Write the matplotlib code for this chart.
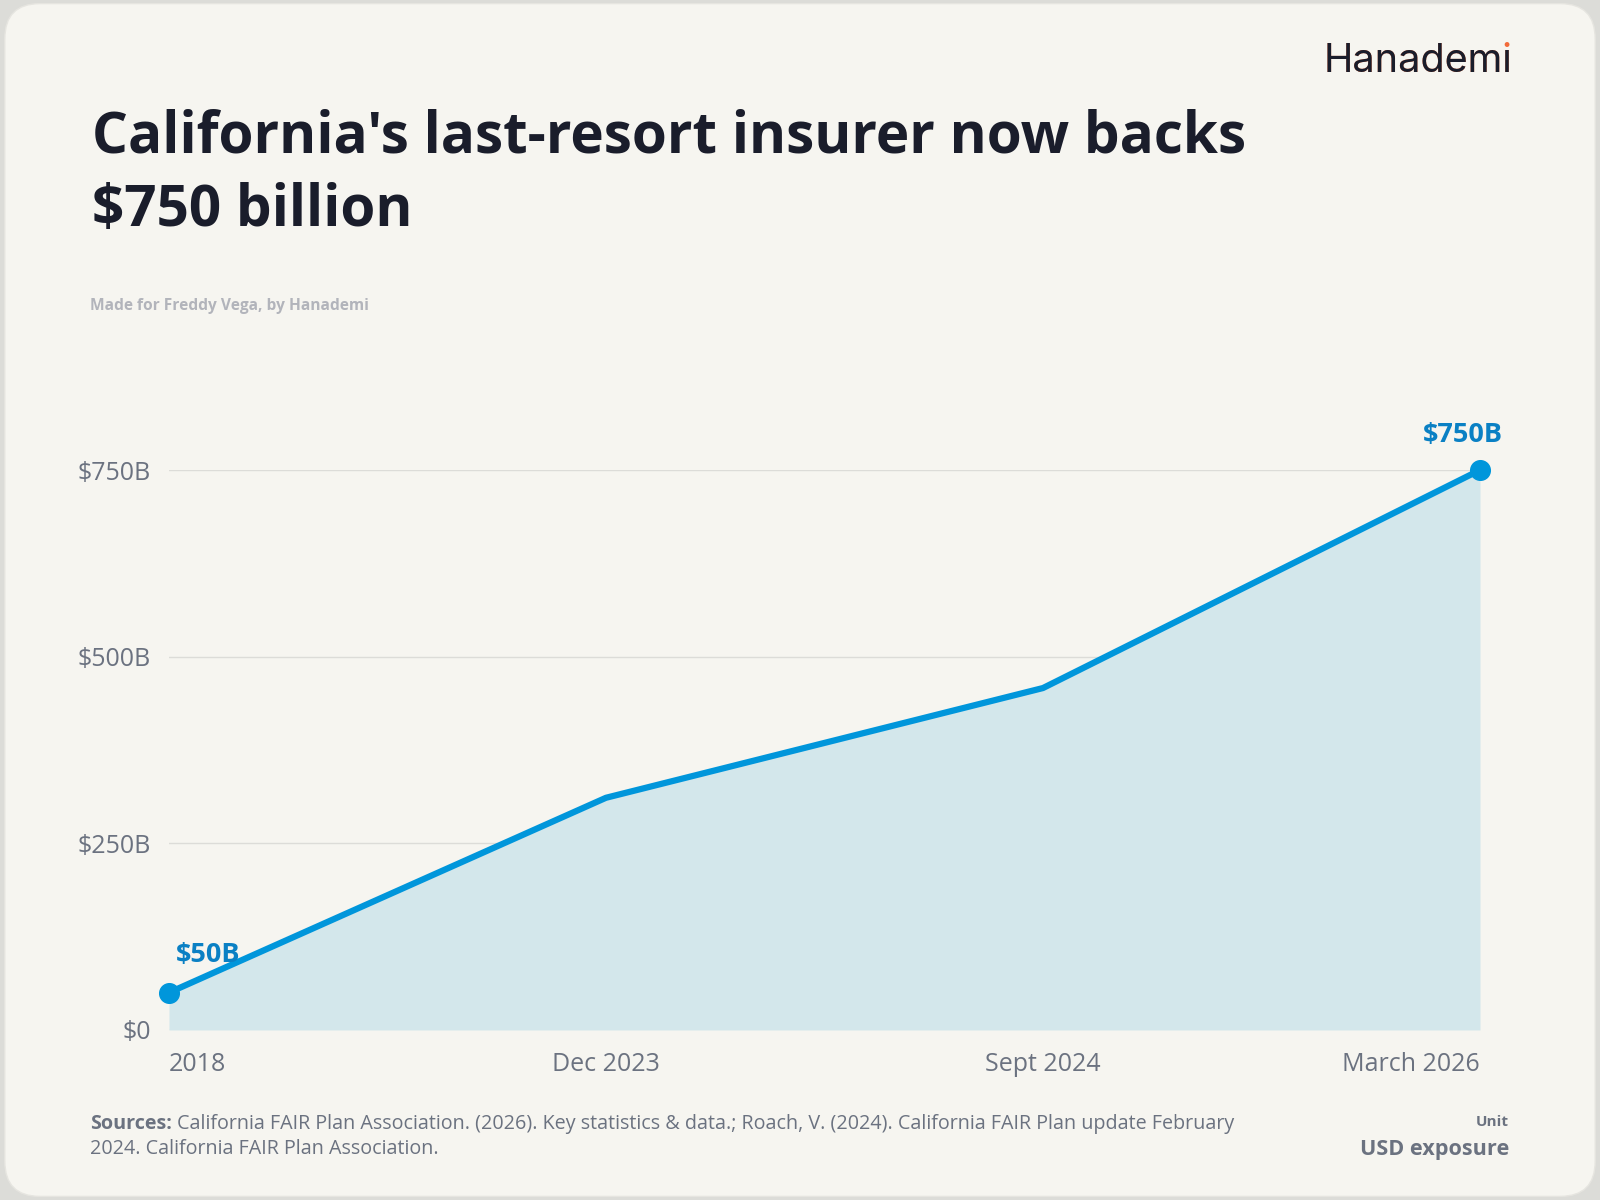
import matplotlib.pyplot as plt
from matplotlib.patches import FancyBboxPatch

# data
periods = ["2018", "Dec 2023", "Sept 2024", "March 2026"]
exposure = [50, 311, 458, 750]   # USD billions
yticks = [0, 250, 500, 750]
ytick_labels = ["$0", "$250B", "$500B", "$750B"]

bg = "#f6f5f0"
dark = "#1a1d2b"
gray = "#6b7280"
blue = "#0096db"
blue_txt = "#0a80c4"
fill = "#d3e7eb"

plt.rcParams['font.family'] = ['Open Sans', 'DejaVu Sans']

fig = plt.figure(figsize=(16, 12), dpi=100)
fig.patch.set_facecolor("#dcdcd8")
card = FancyBboxPatch((0.003, 0.003), 0.994, 0.994, boxstyle="round,pad=0,rounding_size=0.022",
                      transform=fig.transFigure, facecolor=bg, edgecolor="#e6e5e0", lw=1,
                      mutation_aspect=16/12, zorder=-10)
fig.patches.append(card)

ax = fig.add_axes([0.1056, 0.1417, 0.8194, 0.4666])
ax.set_facecolor("none")
x = list(range(len(periods)))
ax.fill_between(x, exposure, 0, color=fill, lw=0, zorder=1)
ax.plot(x, exposure, color=blue, lw=4.5, solid_capstyle="round", zorder=3)
ax.scatter([x[0], x[-1]], [exposure[0], exposure[-1]], s=200, color=blue, zorder=4, clip_on=False)

ax.set_xlim(0, 3)
ax.set_ylim(0, 750)
ax.set_yticks(yticks)
ax.set_yticklabels(ytick_labels)
for yv in yticks:
    ax.axhline(yv, color="#dcdcd8", lw=1, zorder=0)
ax.set_xticks(x)
ax.set_xticklabels(periods)
labs = ax.get_xticklabels()
labs[0].set_ha("left")
labs[-1].set_ha("right")
ax.tick_params(axis="both", length=0, labelsize=18, labelcolor=gray)
ax.tick_params(axis="x", pad=16)
ax.tick_params(axis="y", pad=13)
for s in ax.spines.values():
    s.set_visible(False)

ax.annotate("$50B", (x[0], exposure[0]), xytext=(5, 18), textcoords="offset points",
            ha="left", va="bottom", fontsize=19.5, fontweight="bold", color=blue_txt, zorder=5)
ax.annotate("$750B", (x[-1], exposure[-1]), xytext=(-12, 16), textcoords="offset points",
            ha="center", va="bottom", fontsize=19.5, fontweight="bold", color=blue_txt, zorder=5)

# titles
fig.text(0.0575, 0.8733, "California's last-resort insurer now backs",
         fontsize=40.8, fontweight="bold", color=dark, va="baseline", ha="left")
fig.text(0.0575, 0.8117, "$750 billion",
         fontsize=40.8, fontweight="bold", color=dark, va="baseline", ha="left")
fig.text(0.0563, 0.745, "Made for Freddy Vega, by Hanademi", fontsize=11.2, fontweight="bold",
         color="#b2b4bb", va="center", ha="left")

# logo
fig.text(0.8269, 0.949, "Hanademi", fontsize=28.5, color="#f26b3a", va="center", ha="left",
         family="Inter")
fig.text(0.8269, 0.949, "Hanadem\u0131", fontsize=28.5, color=dark, va="center", ha="left",
         family="Inter")

# footer
src = fig.text(0.0563, 0.059, "Sources:", fontsize=14.2, fontweight="bold", color=gray,
               va="baseline", ha="left")
fig.canvas.draw()
bb = src.get_window_extent().transformed(fig.transFigure.inverted())
fig.text(bb.x1 + 0.003, 0.059, "California FAIR Plan Association. (2026). Key statistics & data.; "
         "Roach, V. (2024). California FAIR Plan update February",
         fontsize=14.2, color=gray, va="baseline", ha="left")
fig.text(0.0563, 0.038, "2024. California FAIR Plan Association.",
         fontsize=14.2, color=gray, va="baseline", ha="left")
fig.text(0.943, 0.065, "Unit", fontsize=11, fontweight="bold", color=gray, va="center", ha="right")
fig.text(0.943, 0.0425, "USD exposure", fontsize=15.6, fontweight="bold", color=gray, va="center", ha="right")

fig.savefig("out.png", dpi=100, facecolor=fig.get_facecolor())
